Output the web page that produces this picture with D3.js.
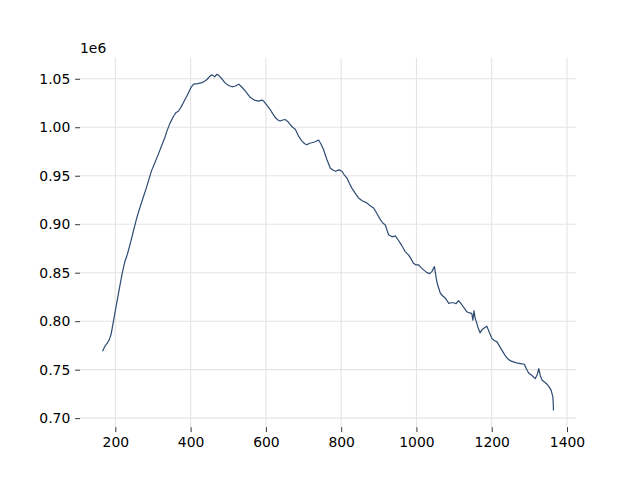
<!DOCTYPE html>
<html><head><meta charset="utf-8">
<script src="https://cdn.jsdelivr.net/npm/d3@7"></script>
<style>body{margin:0;background:#fff}svg{display:block}</style>
</head><body>
<script>
const xValues = [166,172,178,184,189,195,200,208,218,225,232,240,248,258,266,275,282,289,296,302,313,324,332,337,345,355,361,368,375,381,391,401,408,419,430,437,444,452,457,464,469,474,483,492,501,510,519,528,537,545,552,559,569,581,589,594,602,611,618,625,632,638,645,651,658,664,671,678,688,696,703,709,716,722,731,740,746,753,762,771,778,785,794,802,808,815,822,828,837,846,857,868,877,886,895,904,911,917,926,935,944,951,957,964,970,979,986,992,999,1006,1013,1019,1028,1035,1041,1047.7,1053,1055,1063.5,1070,1077,1086,1092,1099,1105,1112,1121,1128,1134,1141,1147,1150,1153,1156,1160.5,1164,1169,1174,1178,1187,1194,1200.5,1207,1214,1221,1227,1235,1242,1250,1258,1266,1276,1286.6,1292,1298,1307,1316,1321,1325,1329,1334,1341,1347,1353,1358,1361,1362.5,1363.5,1364];
const yValues = [0.769,0.774,0.777,0.781,0.787,0.800,0.811,0.828,0.849,0.861,0.869,0.8805,0.893,0.908,0.918,0.9288,0.937,0.946,0.955,0.9606,0.971,0.982,0.990,0.996,1.004,1.0116,1.015,1.0168,1.021,1.0255,1.033,1.041,1.0444,1.045,1.046,1.0475,1.0495,1.053,1.054,1.052,1.0545,1.0537,1.050,1.0455,1.043,1.0417,1.0425,1.0444,1.041,1.0375,1.034,1.0306,1.028,1.027,1.028,1.027,1.023,1.0185,1.014,1.010,1.0075,1.0064,1.0075,1.008,1.006,1.003,1.000,0.998,0.990,0.9857,0.983,0.982,0.9835,0.984,0.985,0.9868,0.983,0.977,0.9668,0.958,0.956,0.9546,0.956,0.9546,0.951,0.9478,0.942,0.9375,0.932,0.9271,0.924,0.922,0.919,0.9168,0.911,0.9047,0.901,0.8995,0.8891,0.887,0.888,0.884,0.8805,0.876,0.8718,0.8684,0.864,0.8598,0.858,0.858,0.855,0.8529,0.8501,0.849,0.8511,0.8563,0.8433,0.8391,0.8288,0.826,0.8236,0.8184,0.819,0.819,0.818,0.8211,0.8167,0.813,0.8097,0.8085,0.8081,0.8011,0.8108,0.803,0.7977,0.793,0.788,0.791,0.7925,0.7949,0.788,0.7822,0.780,0.7787,0.774,0.7701,0.765,0.7615,0.759,0.758,0.757,0.7563,0.7556,0.751,0.7466,0.744,0.7408,0.745,0.7511,0.744,0.739,0.737,0.7349,0.732,0.7287,0.724,0.7217,0.715,0.708].map(v => v * 1e6);
const xTicks = [200,400,600,800,1000,1200,1400];
const yTicks = [700000,750000,800000,850000,900000,950000,1000000,1050000];
const yTickLabels = ["0.70","0.75","0.80","0.85","0.90","0.95","1.00","1.05"];
const offsetLabel = "1e6";

const W = 640, H = 480;
const L = 80, R = 576, T = 57.6, B = 427.2;
const svg = d3.select("body").append("svg").attr("width", W).attr("height", H)
  .style("font-family", "DejaVu Sans, sans-serif");

const xMin = d3.min(xValues), xMax = d3.max(xValues);
const yMin = d3.min(yValues), yMax = d3.max(yValues);
const xm = (xMax - xMin) * 0.05, ym = (yMax - yMin) * 0.05;
const x = d3.scaleLinear().domain([xMin - xm, xMax + xm]).range([L, R]);
const y = d3.scaleLinear().domain([yMin - ym, yMax + ym]).range([B, T]);

// grid
svg.append("g").selectAll("line").data(xTicks).join("line")
  .attr("x1", d => x(d)).attr("x2", d => x(d)).attr("y1", T).attr("y2", B)
  .attr("stroke", "#e4e4e4").attr("stroke-width", 1.1);
svg.append("g").selectAll("line").data(yTicks).join("line")
  .attr("y1", d => y(d)).attr("y2", d => y(d)).attr("x1", L).attr("x2", R)
  .attr("stroke", "#e4e4e4").attr("stroke-width", 1.1);

// axes
const tickLen = 4.86, pad = 4.86, fs = 13.9;
const xAxis = d3.axisBottom(x).tickValues(xTicks).tickSize(tickLen).tickPadding(pad).tickFormat(d3.format("d"));
const gx = svg.append("g").attr("transform", `translate(0,${B})`).call(xAxis);
const yAxis = d3.axisLeft(y).tickValues(yTicks).tickSize(tickLen).tickPadding(pad).tickFormat((d,i) => yTickLabels[i]);
const gy = svg.append("g").attr("transform", `translate(${L},0)`).call(yAxis);
[gx, gy].forEach(g => {
  g.select(".domain").remove();
  g.selectAll(".tick line").attr("stroke", "#000").attr("stroke-width", 0.8);
  g.selectAll(".tick text").attr("fill", "#000").style("font-size", fs + "px").style("font-family", "DejaVu Sans, sans-serif");
});

svg.append("text").attr("x", L).attr("y", T - 5).text(offsetLabel)
  .style("font-size", fs + "px").attr("fill", "#000");

// line
const pts = xValues.map((d, i) => [d, yValues[i]]);
svg.append("path").datum(pts)
  .attr("d", d3.line().x(d => x(d[0])).y(d => y(d[1])))
  .attr("fill", "none").attr("stroke", "#2e4c72").attr("stroke-width", 1.2)
  .attr("stroke-linejoin", "round");
</script>
</body></html>
